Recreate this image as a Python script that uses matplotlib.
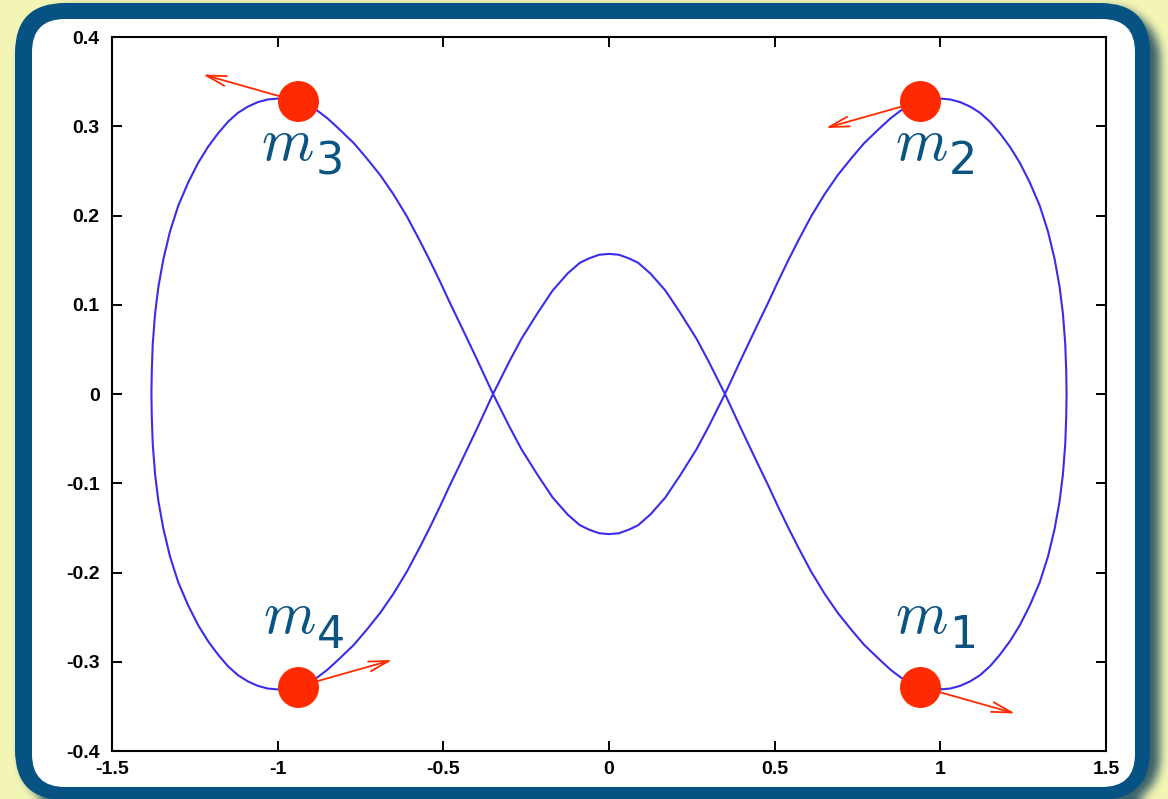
import numpy as np
import matplotlib
matplotlib.use("Agg")
import matplotlib.pyplot as plt
from matplotlib.patches import FancyBboxPatch

# Closed choreography orbit, traced once around:
# right loop, right-to-left lower crossing branch, left loop, left-to-right upper branch
orbit_x = [
    1.000, 1.030, 1.060, 1.090, 1.120, 1.150, 1.180, 1.210, 1.240, 1.270, 1.300, 1.325,
    1.345, 1.360, 1.370, 1.377, 1.380, 1.381, 1.380, 1.377, 1.370, 1.360, 1.345, 1.325,
    1.300, 1.270, 1.240, 1.210, 1.180, 1.150, 1.120, 1.090, 1.060, 1.030, 1.000,
    0.970, 0.940, 0.910, 0.882, 0.850, 0.812, 0.770, 0.731, 0.690, 0.651, 0.610, 0.570,
    0.540, 0.510, 0.480, 0.450, 0.400, 0.350, 0.300, 0.264, 0.215, 0.170, 0.125, 0.088,
    0.060, 0.030, 0.000, -0.030, -0.060, -0.088, -0.125, -0.170, -0.215, -0.264, -0.300,
    -0.350, -0.400, -0.450, -0.480, -0.510, -0.540, -0.570, -0.610, -0.651, -0.690,
    -0.731, -0.770, -0.812, -0.850, -0.882, -0.910, -0.940, -0.970, -1.000,
    -1.030, -1.060, -1.090, -1.120, -1.150, -1.180, -1.210, -1.240, -1.270, -1.300,
    -1.325, -1.345, -1.360, -1.370, -1.377, -1.380, -1.381, -1.380, -1.377, -1.370,
    -1.360, -1.345, -1.325, -1.300, -1.270, -1.240, -1.210, -1.180, -1.150, -1.120,
    -1.090, -1.060, -1.030, -1.000,
    -0.970, -0.940, -0.910, -0.882, -0.850, -0.812, -0.770, -0.731, -0.690, -0.651,
    -0.610, -0.570, -0.540, -0.510, -0.480, -0.450, -0.400, -0.350, -0.300, -0.264,
    -0.215, -0.170, -0.125, -0.088, -0.060, -0.030, 0.000, 0.030, 0.060, 0.088, 0.125,
    0.170, 0.215, 0.264, 0.300, 0.350, 0.400, 0.450, 0.480, 0.510, 0.540, 0.570, 0.610,
    0.651, 0.690, 0.731, 0.770, 0.812, 0.850, 0.882, 0.910, 0.940, 0.970, 1.000,
]
orbit_y = [
    -0.331, -0.330, -0.327, -0.322, -0.315, -0.305, -0.292, -0.277, -0.259, -0.237, -0.211,
    -0.182, -0.151, -0.120, -0.090, -0.056, -0.025, 0.000, 0.025, 0.056, 0.090, 0.120,
    0.151, 0.182, 0.211, 0.237, 0.259, 0.277, 0.292, 0.305, 0.315, 0.322, 0.327, 0.330,
    0.331,
    0.330, 0.328, 0.324, 0.318, 0.309, 0.296, 0.281, 0.264, 0.245, 0.224, 0.199, 0.171,
    0.149, 0.126, 0.102, 0.079, 0.040, 0.000, -0.037, -0.062, -0.091, -0.116, -0.135,
    -0.147, -0.152, -0.156, -0.157, -0.156, -0.152, -0.147, -0.135, -0.116, -0.091,
    -0.062, -0.037, 0.000, 0.040, 0.079, 0.102, 0.126, 0.149, 0.171, 0.199, 0.224,
    0.245, 0.264, 0.281, 0.296, 0.309, 0.318, 0.324, 0.328, 0.330, 0.331,
    0.330, 0.327, 0.322, 0.315, 0.305, 0.292, 0.277, 0.259, 0.237, 0.211, 0.182, 0.151,
    0.120, 0.090, 0.056, 0.025, 0.000, -0.025, -0.056, -0.090, -0.120, -0.151, -0.182,
    -0.211, -0.237, -0.259, -0.277, -0.292, -0.305, -0.315, -0.322, -0.327, -0.330,
    -0.331,
    -0.330, -0.328, -0.324, -0.318, -0.309, -0.296, -0.281, -0.264, -0.245, -0.224,
    -0.199, -0.171, -0.149, -0.126, -0.102, -0.079, -0.040, 0.000, 0.037, 0.062, 0.091,
    0.116, 0.135, 0.147, 0.152, 0.156, 0.157, 0.156, 0.152, 0.147, 0.135, 0.116, 0.091,
    0.062, 0.037, 0.000, -0.040, -0.079, -0.102, -0.126, -0.149, -0.171, -0.199, -0.224,
    -0.245, -0.264, -0.281, -0.296, -0.309, -0.318, -0.324, -0.328, -0.330, -0.331,
]

# The four bodies and their velocity vectors
body_index = ["1", "2", "3", "4"]
body_x = [0.94, 0.94, -0.94, -0.94]
body_y = [-0.328, 0.328, 0.328, -0.328]
vel_x = [0.286, -0.286, -0.286, 0.286]
vel_y = [-0.030, -0.030, 0.030, 0.030]

x_ticks = [-1.5, -1.0, -0.5, 0.0, 0.5, 1.0, 1.5]
x_tick_labels = ["-1.5", "-1", "-0.5", "0", "0.5", "1", "1.5"]
y_ticks = [-0.4, -0.3, -0.2, -0.1, 0.0, 0.1, 0.2, 0.3, 0.4]
y_tick_labels = ["-0.4", "-0.3", "-0.2", "-0.1", "0", "0.1", "0.2", "0.3", "0.4"]

plt.rcParams["mathtext.fontset"] = "cm"

W, H = 1168, 799
fig = plt.figure(figsize=(W / 100, H / 100), dpi=100)
fig.patch.set_facecolor("#f2f5b4")


def rounded_mask(x0, y0, x1, y1, r):
    yy, xx = np.mgrid[0:H, 0:W] + 0.5
    cx = np.clip(xx, x0 + r, x1 - r)
    cy = np.clip(yy, y0 + r, y1 - r)
    d = np.hypot(xx - cx, yy - cy)
    return ((d <= r) & (xx >= x0) & (xx <= x1) & (yy >= y0) & (yy <= y1)).astype(float)


def box_blur(a, k):
    pad = k // 2
    for axis in (0, 1):
        widths = [(pad, pad) if i == axis else (0, 0) for i in range(2)]
        padded = np.pad(a, widths, mode="edge")
        c = np.cumsum(padded, axis=axis)
        c = np.insert(c, 0, 0, axis=axis)
        if axis == 0:
            a = (c[k:, :] - c[:-k, :]) / k
        else:
            a = (c[:, k:] - c[:, :-k]) / k
    return a


# soft drop shadow behind the frame
shadow = rounded_mask(22, 8, 1160, 808, 50)
for _ in range(3):
    shadow = box_blur(shadow, 9)
rgba = np.zeros((H, W, 4))
rgba[..., 0] = 0.10
rgba[..., 1] = 0.28
rgba[..., 2] = 0.36
rgba[..., 3] = shadow * 0.85
fig.figimage(rgba, xo=0, yo=0, origin="upper", zorder=-8)

# rounded frame and white panel (inches)
fig.patches.append(FancyBboxPatch((0.15, -0.01), 11.35, 7.97,
                                  boxstyle="round,pad=0,rounding_size=0.5",
                                  transform=fig.dpi_scale_trans, facecolor="#065282",
                                  edgecolor="none", zorder=-5))
fig.patches.append(FancyBboxPatch((0.32, 0.12), 11.03, 7.68,
                                  boxstyle="round,pad=0,rounding_size=0.33",
                                  transform=fig.dpi_scale_trans, facecolor="white",
                                  edgecolor="none", zorder=-4))

ax = fig.add_axes([112 / W, 1 - 751 / H, (1106 - 112) / W, (751 - 37) / H])
ax.set_facecolor("white")
ax.set_zorder(1)

ax.plot(orbit_x, orbit_y, color="#3b2cec", lw=1.5, solid_joinstyle="round", zorder=2)

for bx, by, vx, vy in zip(body_x, body_y, vel_x, vel_y):
    ax.annotate("", xy=(bx + vx, by + vy), xytext=(bx, by),
                arrowprops=dict(arrowstyle="->,head_length=0.72,head_width=0.18",
                                mutation_scale=20, color="#ff2a00", lw=1.3,
                                shrinkA=0, shrinkB=0), zorder=3)

ax.plot(body_x, body_y, "o", ms=29.5, color="#ff2a00", markeredgewidth=0, zorder=4)

# name "m" and its index, placed relative to each body (points)
name_offsets = [(-18.5, 38.4), (-18.5, -42.1), (-26.0, -42.1), (-25.2, 38.4)]
index_shift = (39.0, -10.3)
label_color = "#0b5482"
for idx, bx, by, (ox, oy) in zip(body_index, body_x, body_y, name_offsets):
    ax.annotate(r"$m$", xy=(bx, by), xytext=(ox, oy), textcoords="offset points",
                ha="left", va="baseline", fontsize=43, color=label_color, zorder=5)
    ax.annotate(idx, xy=(bx, by), xytext=(ox + index_shift[0], oy + index_shift[1]),
                textcoords="offset points", ha="left", va="baseline", fontsize=32,
                family="DejaVu Sans", color=label_color, zorder=5)

ax.set_xlim(-1.5, 1.5)
ax.set_ylim(-0.4, 0.4)
ax.set_xticks(x_ticks)
ax.set_yticks(y_ticks)
ax.set_xticklabels(x_tick_labels, fontsize=14, fontweight="bold", family="Liberation Sans")
ax.set_yticklabels(y_tick_labels, fontsize=14, fontweight="bold", family="Liberation Sans")
ax.tick_params(direction="in", length=7, width=1.4, top=True, right=True, color="black")
ax.tick_params(axis="x", pad=7)
ax.tick_params(axis="y", pad=9)
for sp in ax.spines.values():
    sp.set_linewidth(1.5)
    sp.set_color("black")

fig.savefig("out.png", dpi=100, facecolor=fig.get_facecolor())
